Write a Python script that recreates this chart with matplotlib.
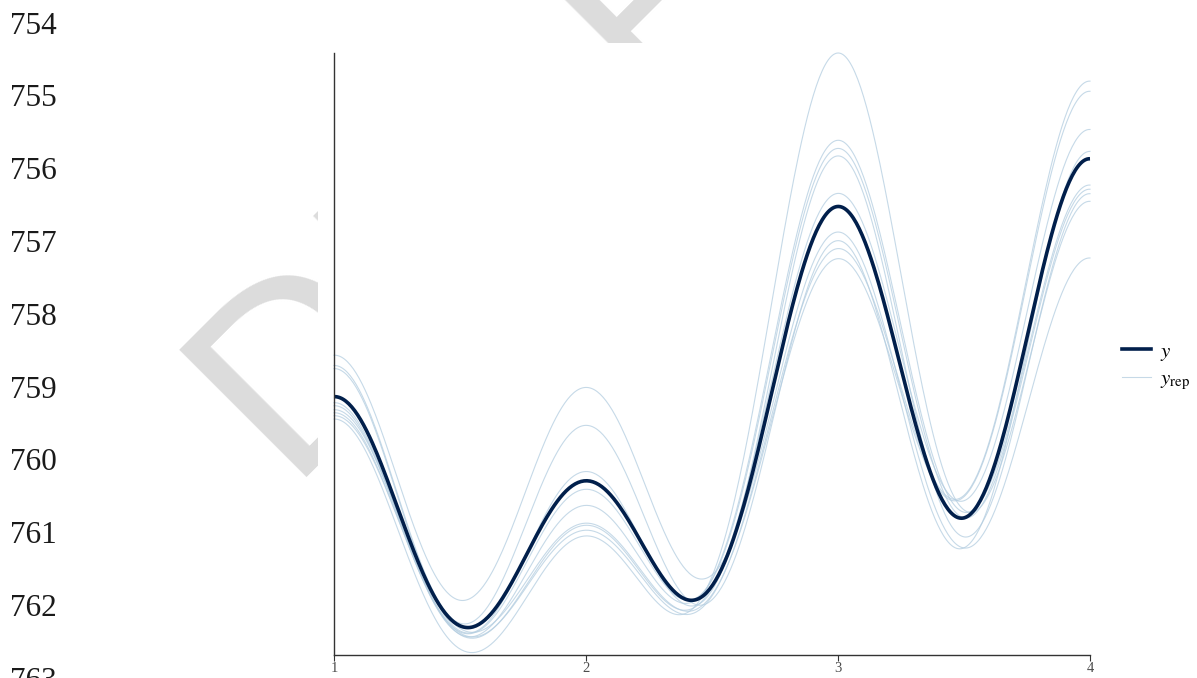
import matplotlib
matplotlib.use("Agg")
import matplotlib.pyplot as plt
import numpy as np
from matplotlib.lines import Line2D
from matplotlib.patches import Rectangle

plt.rcParams["font.family"] = "Liberation Serif"
plt.rcParams["mathtext.fontset"] = "stix"

# discrete outcome values and the share of observations at each value
values = [1, 2, 3, 4]
y_props = [0.2026, 0.1551, 0.3077, 0.3346]
y_bw = 0.2834

yrep_props = [
    [0.2243, 0.2059, 0.2919, 0.2779],
    [0.2127, 0.1801, 0.2794, 0.3277],
    [0.2119, 0.1558, 0.3263, 0.3061],
    [0.1978, 0.1493, 0.3376, 0.3153],
    [0.1969, 0.1409, 0.3434, 0.3188],
    [0.1999, 0.1344, 0.2849, 0.3808],
    [0.1957, 0.1316, 0.3182, 0.3545],
    [0.1957, 0.1299, 0.2895, 0.3850],
    [0.1867, 0.1222, 0.3860, 0.3051],
]
yrep_bw = [0.2818, 0.2740, 0.2751, 0.2813, 0.2824, 0.2901, 0.2864, 0.2889, 0.2781]

x_ticks = [1, 2, 3, 4]
line_numbers = ["754", "755", "756", "757", "758", "759", "760", "761", "762", "763"]
watermark = "DRAFT"

DARK = "#011f4b"
LIGHT = "#b3cde0"


def kde(grid, props, bw):
    dens = np.zeros_like(grid)
    for v, p in zip(values, props):
        dens += p * np.exp(-0.5 * ((grid - v) / bw) ** 2) / (bw * np.sqrt(2 * np.pi))
    return dens


W, H = 1197, 678
fig = plt.figure(figsize=(W / 100, H / 100), dpi=100)

# page behind the chart image: watermark + line numbers
fig.text(283 / W, 1 - 477 / H, watermark, fontsize=178, color="#dcdcdc",
         family="DejaVu Sans", rotation=45, rotation_mode="anchor",
         ha="left", va="baseline", zorder=0)
fig.patches.append(Rectangle((318 / W, 0), 1 - 318 / W, 1 - 43 / H,
                             transform=fig.transFigure, facecolor="white",
                             edgecolor="none", zorder=1))
for i, s in enumerate(line_numbers):
    fig.text(10 / W, 1 - (26 + 72.8 * i) / H, s, fontsize=22.5, color="#1a1a1a",
             ha="left", va="center", zorder=3)

ax = fig.add_axes([334 / W, 23 / H, 756 / W, 602 / H], zorder=2)
ax.patch.set_alpha(0)

grid = np.linspace(1, 4, 512)
curves = [kde(grid, p, b) for p, b in zip(yrep_props, yrep_bw)]
y_curve = kde(grid, y_props, y_bw)

for c in curves:
    ax.plot(grid, c, color=LIGHT, lw=0.8, alpha=0.75, clip_on=False)
ax.plot(grid, y_curve, color=DARK, lw=2.6, clip_on=False, solid_capstyle="butt")

lo = min(c.min() for c in curves + [y_curve])
hi = max(c.max() for c in curves + [y_curve])
ax.set_ylim(lo - 0.004 * (hi - lo), hi)
ax.set_xlim(1, 4)
ax.set_xticks(x_ticks)
ax.set_xticklabels([str(t) for t in x_ticks])
ax.set_yticks([])
for side in ["top", "right"]:
    ax.spines[side].set_visible(False)
for side in ["left", "bottom"]:
    ax.spines[side].set_color("#333333")
    ax.spines[side].set_linewidth(1.0)
ax.tick_params(axis="x", length=4, width=0.8, color="#333333",
               labelsize=10.5, labelcolor="#4d4d4d", pad=1)

handles = [Line2D([], [], color=DARK, lw=2.6),
           Line2D([], [], color=LIGHT, lw=0.8, alpha=0.75)]
fig.legend(handles, [r"$y$", r"$y_{\mathrm{rep}}$"], loc="center left",
           bbox_to_anchor=(1103 / W, 1 - 367 / H), frameon=False,
           fontsize=15, handlelength=1.4, handletextpad=0.45, labelspacing=0.35)

fig.savefig("out.png", dpi=100)
